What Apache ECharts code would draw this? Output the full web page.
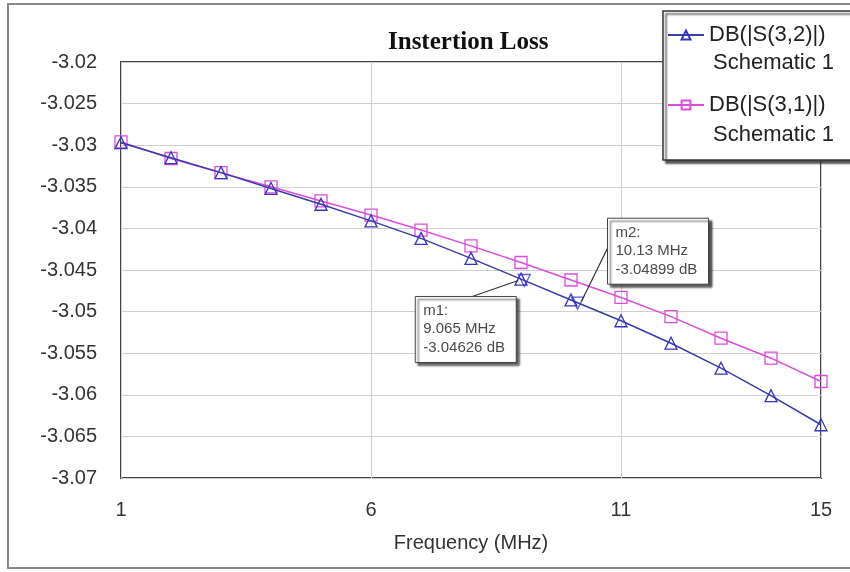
<!DOCTYPE html>
<html><head><meta charset="utf-8">
<script src="https://cdn.jsdelivr.net/npm/echarts@6/dist/echarts.min.js"></script>
<style>html,body{margin:0;padding:0;background:#fff}#c{width:850px;height:572px}</style>
</head><body><div id="c"></div>
<script>
// ---- data ----
const freq = [1,2,3,4,5,6,7,8,9,10,11,12,13,14,15];
const s32 = [-3.0297,-3.0315,-3.0333,-3.0352,-3.0371,-3.0391,-3.0412,-3.0436,-3.0461,-3.0486,-3.0511,-3.0538,-3.0568,-3.0601,-3.0636];
const s31 = [-3.0296,-3.0316,-3.0333,-3.0350,-3.0367,-3.0384,-3.0402,-3.0421,-3.0441,-3.0462,-3.0483,-3.0506,-3.0532,-3.0556,-3.0584];
const seriesNames = ['DB(|S(3,2)|)','DB(|S(3,1)|)'];
const seriesSub = ['Schematic 1','Schematic 1'];
const markerNames = ['m1','m2'];
const markerFreq = [9.065, 10.13];
const markerVal = [-3.04626, -3.04899];
const xTicks = [1,6,11,15];
const yMin = -3.07, yMax = -3.02, yStep = 0.005;

const BLUE = '#3a3ca8', BLUE_M = '#3535c0', MAG = '#dd4ddd';
const FONT = "'Liberation Sans', Arial, sans-serif";

const chart = echarts.init(document.getElementById('c'), null, {renderer:'canvas'});
const option = {
  animation: false,
  backgroundColor: '#fff',
  title: {
    text: 'Instertion Loss', left: 383, top: 25,
    textStyle: {fontFamily: "'Liberation Serif', 'Times New Roman', serif", fontWeight: 'bold', fontSize: 25, color: '#111'}
  },
  grid: {left: 121, right: 29, top: 62, bottom: 94, show: true, borderColor: '#444', borderWidth: 2, containLabel: false},
  legend: {
    data: seriesNames, orient: 'vertical', left: 663, top: 11,
    padding: [13, 40, 44, 4], itemGap: 48, itemWidth: 36, itemHeight: 11,
    backgroundColor: '#fff', borderColor: '#333', borderWidth: 1.5,
    shadowColor: 'rgba(40,40,40,0.8)', shadowOffsetX: 3, shadowOffsetY: 3, shadowBlur: 2,
    textStyle: {fontFamily: FONT, fontSize: 22, color: '#222'}
  },
  xAxis: {
    type: 'value', min: 1, max: 15,
    name: 'Frequency (MHz)', nameLocation: 'middle', nameGap: 55,
    nameTextStyle: {fontFamily: FONT, fontSize: 20, color: '#333'},
    axisLine: {show: false},
    axisTick: {show: false, customValues: xTicks},
    axisLabel: {customValues: xTicks, margin: 22, fontFamily: FONT, fontSize: 20, color: '#333'},
    splitLine: {show: true, lineStyle: {color: '#cfcfcf', width: 1}}
  },
  yAxis: {
    type: 'value', min: yMin, max: yMax, interval: yStep,
    axisLine: {show: false}, axisTick: {show: false},
    axisLabel: {margin: 24, fontFamily: FONT, fontSize: 20, color: '#333', padding: [6,0,0,0],
      formatter: v => String(Math.round(v * 1000) / 1000)},
    splitLine: {show: true, lineStyle: {color: '#cfcfcf', width: 1}}
  },
  series: [
    {name: seriesNames[0], type: 'line', data: freq.map((f,i)=>[f, s32[i]]),
     symbol: 'triangle', symbolSize: 12, z: 3,
     lineStyle: {color: BLUE, width: 1.5},
     itemStyle: {color: 'rgba(255,255,255,0)', borderColor: BLUE_M, borderWidth: 1.3}},
    {name: seriesNames[1], type: 'line', data: freq.map((f,i)=>[f, s31[i]]),
     symbol: 'rect', symbolSize: 12, z: 2,
     lineStyle: {color: MAG, width: 1.5},
     itemStyle: {color: 'rgba(255,255,255,0)', borderColor: MAG, borderWidth: 1.3}},
    {name: 'markers', type: 'scatter', data: markerFreq.map((f,i)=>[f, markerVal[i]]),
     symbol: 'triangle', symbolRotate: 180, symbolSize: 12, z: 4,
     itemStyle: {color: 'rgba(255,255,255,0)', borderColor: BLUE_M, borderWidth: 1.3}}
  ]
};
chart.setOption(option);

// ---- annotations positioned from the chart's own scale ----
const boxOffsets = [[-109, 16], [30, -85]];     // box top-left relative to marker
const leadStart = [[-52, 16], [30, -55]];        // leader line start relative to marker
const leadEnd = [[-6, 0], [4, -2]];
const graphics = [
  {type: 'rect', shape: {x: 8, y: 4, width: 870, height: 564}, style: {fill: 'none', stroke: '#8a8a8a', lineWidth: 2}, z: 0, silent: true}
];
markerNames.forEach((m, i) => {
  const p = chart.convertToPixel({xAxisIndex: 0, yAxisIndex: 0}, [markerFreq[i], markerVal[i]]);
  const bx = p[0] + boxOffsets[i][0], by = p[1] + boxOffsets[i][1];
  graphics.push({type: 'line', z: 50, shape: {x1: p[0] + leadStart[i][0], y1: p[1] + leadStart[i][1], x2: p[0] + leadEnd[i][0], y2: p[1] + leadEnd[i][1]}, style: {stroke: '#333', lineWidth: 1.2}});
  graphics.push({type: 'rect', z: 51, shape: {x: bx, y: by, width: 101, height: 66},
    style: {fill: '#fff', stroke: '#444', lineWidth: 1, shadowColor: 'rgba(40,40,40,0.8)', shadowOffsetX: 3, shadowOffsetY: 3, shadowBlur: 2}});
  graphics.push({type: 'text', z: 52, x: bx + 8, y: by + 5,
    style: {text: m + ':\n' + markerFreq[i] + ' MHz\n' + markerVal[i] + ' dB', font: "15px 'Liberation Sans', Arial, sans-serif", fill: '#4a4a4a', lineHeight: 18.5}});
});
seriesSub.forEach((s, i) => {
  graphics.push({type: 'text', z: 100, x: 713, y: 63 + i * 72, style: {text: s, font: "22px 'Liberation Sans', Arial, sans-serif", fill: '#222', verticalAlign: 'middle'}});
});
chart.setOption({graphic: graphics});
</script></body></html>
